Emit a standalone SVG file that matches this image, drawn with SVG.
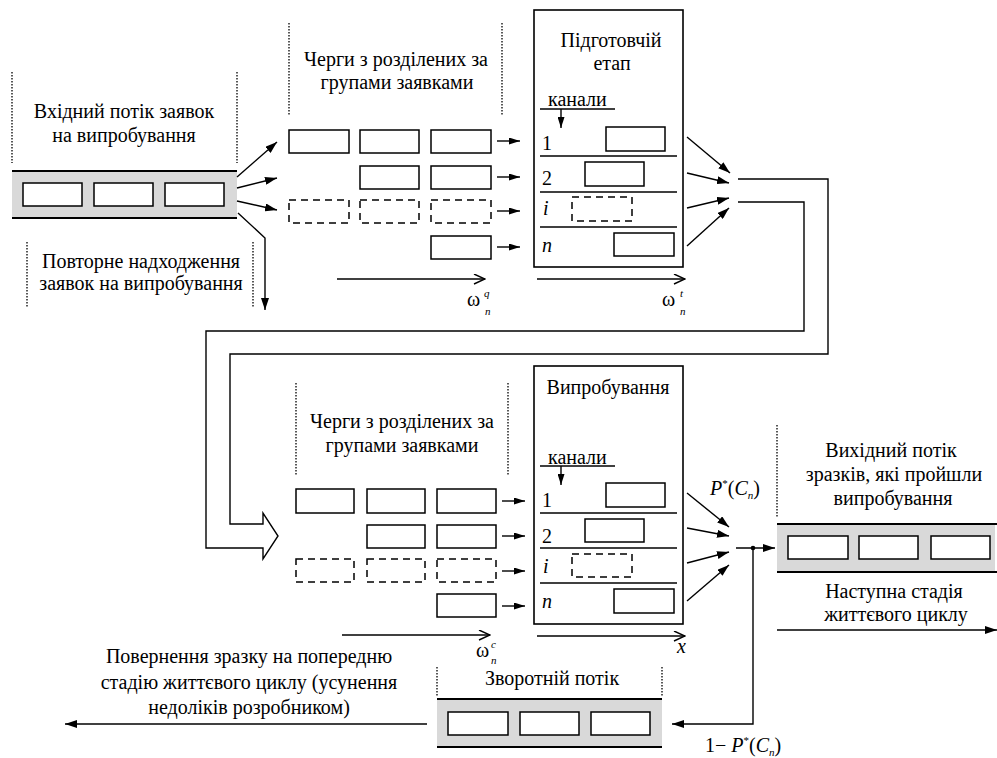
<svg xmlns="http://www.w3.org/2000/svg" width="997" height="758" viewBox="0 0 997 758">
<defs>
<style>
text{fill:#000}
.t{font-size:20px}
.c{text-anchor:middle}
.it{font-style:italic}
.sm{font-size:11px;font-style:italic}
.box{fill:#fff;stroke:#000;stroke-width:1.5}
.dbox{fill:#fff;stroke:#000;stroke-width:1.5;stroke-dasharray:7,5}
.band{fill:#d9d9d9;stroke:none}
.bl{stroke:#000;stroke-width:2;fill:none}
.dot{stroke:#000;stroke-width:1.3;stroke-dasharray:1.5,1.5;fill:none}
.ln{stroke:#000;stroke-width:1.4;fill:none}
.frame{fill:#fff;stroke:#000;stroke-width:1.6}
</style>
<marker id="ah" viewBox="0 0 12 8" refX="12" refY="4" markerWidth="12" markerHeight="8" orient="auto" markerUnits="userSpaceOnUse"><path d="M0,0 L12,4 L0,8 z" fill="#000"/></marker>
<marker id="ahs" viewBox="0 0 11 7" refX="11" refY="3.5" markerWidth="11" markerHeight="7" orient="auto" markerUnits="userSpaceOnUse"><path d="M0,0 L11,3.5 L0,7 z" fill="#000"/></marker>
<marker id="oa" viewBox="0 0 13 11" refX="12" refY="5.5" markerWidth="13" markerHeight="11" orient="auto" markerUnits="userSpaceOnUse"><path d="M1,0.5 L12,5.5 L1,10.5" fill="none" stroke="#000" stroke-width="1.4"/></marker>
</defs>
<rect width="997" height="758" fill="#fff"/>

<g id="input-flow">
<line class="dot" x1="12" y1="72" x2="12" y2="163"/>
<line class="dot" x1="237" y1="72" x2="237" y2="163"/>
<text class="t c" x="124" y="118" font-family="Tinos">Вхідний потік заявок</text>
<text class="t c" x="124" y="142" font-family="Tinos">на випробування</text>
<rect class="band" x="12" y="171" width="225" height="47"/>
<line class="bl" x1="12" y1="171" x2="237" y2="171"/>
<line class="bl" x1="12" y1="218" x2="237" y2="218"/>
<rect class="box" x="23" y="183" width="59" height="23"/>
<rect class="box" x="94" y="183" width="59" height="23"/>
<rect class="box" x="165" y="183" width="59" height="23"/>
</g>

<g id="repeat-label">
<line class="dot" x1="27" y1="242" x2="27" y2="308"/>
<line class="dot" x1="253" y1="242" x2="253" y2="308"/>
<text class="t c" x="141" y="268" font-family="Tinos">Повторне надходження</text>
<text class="t c" x="141" y="290" font-family="Tinos">заявок на випробування</text>
</g>

<g id="queues-1">
<line class="dot" x1="289" y1="23" x2="289" y2="116"/>
<line class="dot" x1="502" y1="23" x2="502" y2="116"/>
<text class="t c" x="396" y="66" font-family="Tinos">Черги з розділених за</text>
<text class="t c" x="397" y="89" font-family="Tinos">групами заявками</text>
<rect class="box" x="289" y="130" width="60" height="23"/>
<rect class="box" x="360" y="130" width="59" height="23"/>
<rect class="box" x="431" y="130" width="60" height="23"/>
<rect class="box" x="360" y="166" width="59" height="23"/>
<rect class="box" x="431" y="166" width="60" height="23"/>
<rect class="dbox" x="289" y="200" width="60" height="23"/>
<rect class="dbox" x="360" y="200" width="59" height="23"/>
<rect class="dbox" x="431" y="200" width="60" height="23"/>
<rect class="box" x="431" y="236" width="60" height="23"/>
</g>

<g id="prep-stage">
<rect class="frame" x="534" y="10" width="149" height="257"/>
<text class="t c" x="611" y="47" font-family="Tinos">Підготовчій</text>
<text class="t c" x="612" y="70" font-family="Tinos">етап</text>
<text class="t" x="548" y="106" font-family="Tinos">канали</text>
<line class="ln" x1="540" y1="109" x2="615" y2="109"/>
<text class="t" x="542" y="150" font-family="Tinos">1</text>
<line class="ln" x1="540" y1="156" x2="677" y2="156"/>
<text class="t" x="542" y="185" font-family="Tinos">2</text>
<line class="ln" x1="540" y1="192" x2="677" y2="192"/>
<text class="t it" x="543" y="215" font-family="Tinos">i</text>
<line class="ln" x1="540" y1="227" x2="677" y2="227"/>
<text class="t it" x="542" y="252" font-family="Tinos">n</text>
<rect class="box" x="606" y="127" width="59" height="24"/>
<rect class="box" x="585" y="162" width="59" height="24"/>
<rect class="dbox" x="572" y="197" width="60" height="24"/>
<rect class="box" x="614" y="233" width="60" height="23"/>
</g>

<g id="queues-2">
<line class="dot" x1="296" y1="383" x2="296" y2="475"/>
<line class="dot" x1="508" y1="383" x2="508" y2="475"/>
<text class="t c" x="402" y="428" font-family="Tinos">Черги з розділених за</text>
<text class="t c" x="402" y="452" font-family="Tinos">групами заявками</text>
<rect class="box" x="296" y="489" width="58" height="24"/>
<rect class="box" x="367" y="489" width="58" height="24"/>
<rect class="box" x="437" y="489" width="59" height="24"/>
<rect class="box" x="367" y="525" width="58" height="23"/>
<rect class="box" x="437" y="525" width="59" height="23"/>
<rect class="dbox" x="296" y="559" width="58" height="23"/>
<rect class="dbox" x="367" y="559" width="58" height="23"/>
<rect class="dbox" x="437" y="559" width="59" height="23"/>
<rect class="box" x="437" y="594" width="59" height="23"/>
</g>

<g id="testing-stage">
<rect class="frame" x="534" y="366" width="149" height="258"/>
<text class="t c" x="608" y="394" font-family="Tinos">Випробування</text>
<text class="t" x="548" y="464" font-family="Tinos">канали</text>
<line class="ln" x1="540" y1="466" x2="615" y2="466"/>
<text class="t" x="542" y="507" font-family="Tinos">1</text>
<line class="ln" x1="540" y1="513" x2="677" y2="513"/>
<text class="t" x="542" y="543" font-family="Tinos">2</text>
<line class="ln" x1="540" y1="548" x2="677" y2="548"/>
<text class="t it" x="543" y="573" font-family="Tinos">i</text>
<line class="ln" x1="540" y1="583" x2="677" y2="583"/>
<text class="t it" x="542" y="608" font-family="Tinos">n</text>
<rect class="box" x="606" y="483" width="59" height="24"/>
<rect class="box" x="585" y="519" width="59" height="23"/>
<rect class="dbox" x="572" y="554" width="60" height="23"/>
<rect class="box" x="614" y="589" width="60" height="24"/>
</g>

<g id="output-flow">
<line class="dot" x1="777" y1="425" x2="777" y2="517"/>
<text class="t c" x="891" y="457" font-family="Tinos">Вихідний потік</text>
<text class="t c" x="894" y="481" font-family="Tinos">зразків, які пройшли</text>
<text class="t c" x="893" y="505" font-family="Tinos">випробування</text>
<rect class="band" x="777" y="524" width="218" height="48"/>
<line class="bl" x1="777" y1="524" x2="997" y2="524"/>
<line class="bl" x1="777" y1="572" x2="997" y2="572"/>
<rect class="box" x="788" y="536" width="60" height="23"/>
<rect class="box" x="859" y="536" width="59" height="23"/>
<rect class="box" x="931" y="536" width="59" height="23"/>
<text class="t c" x="894" y="598" font-family="Tinos">Наступна стадія</text>
<text class="t c" x="896" y="621" font-family="Tinos">життєвого циклу</text>
</g>

<g id="return-flow">
<line class="dot" x1="437" y1="667" x2="437" y2="697"/>
<line class="dot" x1="662" y1="667" x2="662" y2="697"/>
<text class="t c" x="552" y="685" font-family="Tinos">Зворотній потік</text>
<rect class="band" x="437" y="699" width="225" height="48"/>
<line class="bl" x1="437" y1="699" x2="662" y2="699"/>
<line class="bl" x1="437" y1="747" x2="662" y2="747"/>
<rect class="box" x="448" y="712" width="60" height="23"/>
<rect class="box" x="520" y="712" width="59" height="23"/>
<rect class="box" x="591" y="712" width="59" height="23"/>
</g>

<g id="return-label">
<text class="t c" x="249" y="663" font-family="Tinos">Повернення зразку на попередню</text>
<text class="t c" x="249" y="689" font-family="Tinos">стадію життєвого циклу (усунення</text>
<text class="t c" x="249" y="714" font-family="Tinos">недоліків розробником)</text>
</g>

<g id="labels">
<text x="467" y="306" font-size="20" font-family="Tinos">ω</text><text class="sm" x="484" y="297" font-family="Tinos">q</text><text class="sm" x="485" y="315" font-size="10" font-family="Tinos">n</text>
<text x="662" y="306" font-size="20" font-family="Tinos">ω</text><text class="sm" x="680" y="297" font-family="Tinos">t</text><text class="sm" x="680" y="315" font-size="10" font-family="Tinos">n</text>
<text x="476" y="657" font-size="20" font-family="Tinos">ω</text><text class="sm" x="491" y="648" font-family="Tinos">c</text><text class="sm" x="491" y="664" font-size="10" font-family="Tinos">n</text>
<text class="t it" x="677" y="653" font-family="Tinos">x</text>
<text x="710" y="495" font-size="20" font-family="Tinos"><tspan font-style="italic">P</tspan><tspan font-size="11" dy="-8">*</tspan><tspan dy="8">(</tspan><tspan font-style="italic">C</tspan><tspan font-size="11" font-style="italic" dy="4">n</tspan><tspan dy="-4">)</tspan></text>
<text x="705" y="752" font-size="20" font-family="Tinos">1− <tspan font-style="italic">P</tspan><tspan font-size="11" dy="-8">*</tspan><tspan dy="8">(</tspan><tspan font-style="italic">C</tspan><tspan font-size="11" font-style="italic" dy="4">n</tspan><tspan dy="-4">)</tspan></text>
</g>

<g id="connectors">
<line class="ln" x1="237" y1="177" x2="277" y2="142" marker-end="url(#ah)"/>
<line class="ln" x1="237" y1="188" x2="277" y2="178" marker-end="url(#ah)"/>
<line class="ln" x1="237" y1="201" x2="277" y2="210" marker-end="url(#ah)"/>
<polyline class="ln" points="238,213 265,238 265,310" marker-end="url(#ah)"/>
<line class="ln" x1="497" y1="141" x2="520" y2="141" marker-end="url(#ahs)"/>
<line class="ln" x1="497" y1="177" x2="520" y2="177" marker-end="url(#ahs)"/>
<line class="ln" x1="497" y1="211" x2="520" y2="211" marker-end="url(#ahs)"/>
<line class="ln" x1="497" y1="247" x2="520" y2="247" marker-end="url(#ahs)"/>
<line class="ln" x1="561" y1="109" x2="561" y2="128" marker-end="url(#ahs)"/>
<line class="ln" x1="337" y1="279" x2="485" y2="279" marker-end="url(#oa)"/>
<line class="ln" x1="537" y1="279" x2="685" y2="279" marker-end="url(#oa)"/>
<line class="ln" x1="687" y1="137" x2="730" y2="173" marker-end="url(#ah)"/>
<line class="ln" x1="687" y1="173" x2="729" y2="183" marker-end="url(#ah)"/>
<line class="ln" x1="687" y1="208" x2="729" y2="198" marker-end="url(#ah)"/>
<line class="ln" x1="687" y1="246" x2="729" y2="208" marker-end="url(#ah)"/>
<polyline class="ln" points="738,179 828,179 828,354 230,354 230,524 263,524 263,513 278,536 263,559 263,548 206,548 206,331 804,331 804,202 738,202"/>
<line class="ln" x1="502" y1="501" x2="525" y2="501" marker-end="url(#ahs)"/>
<line class="ln" x1="502" y1="536" x2="525" y2="536" marker-end="url(#ahs)"/>
<line class="ln" x1="502" y1="571" x2="525" y2="571" marker-end="url(#ahs)"/>
<line class="ln" x1="502" y1="606" x2="525" y2="606" marker-end="url(#ahs)"/>
<line class="ln" x1="561" y1="466" x2="561" y2="485" marker-end="url(#ahs)"/>
<line class="ln" x1="342" y1="635" x2="490" y2="635" marker-end="url(#oa)"/>
<line class="ln" x1="537" y1="636" x2="685" y2="636" marker-end="url(#oa)"/>
<line class="ln" x1="687" y1="493" x2="729" y2="527" marker-end="url(#ah)"/>
<line class="ln" x1="687" y1="528" x2="729" y2="536" marker-end="url(#ah)"/>
<line class="ln" x1="687" y1="563" x2="729" y2="552" marker-end="url(#ah)"/>
<line class="ln" x1="687" y1="601" x2="729" y2="565" marker-end="url(#ah)"/>
<line class="ln" x1="736" y1="548" x2="775" y2="548" marker-end="url(#ah)"/>
<circle cx="753" cy="548" r="2.3" fill="#000"/>
<polyline class="ln" points="753,548 753,724 672,724" marker-end="url(#ah)"/>
<line class="ln" x1="777" y1="630" x2="997" y2="630" marker-end="url(#ah)"/>
<line class="ln" x1="427" y1="724" x2="65" y2="724" marker-end="url(#ah)"/>
</g>
</svg>
